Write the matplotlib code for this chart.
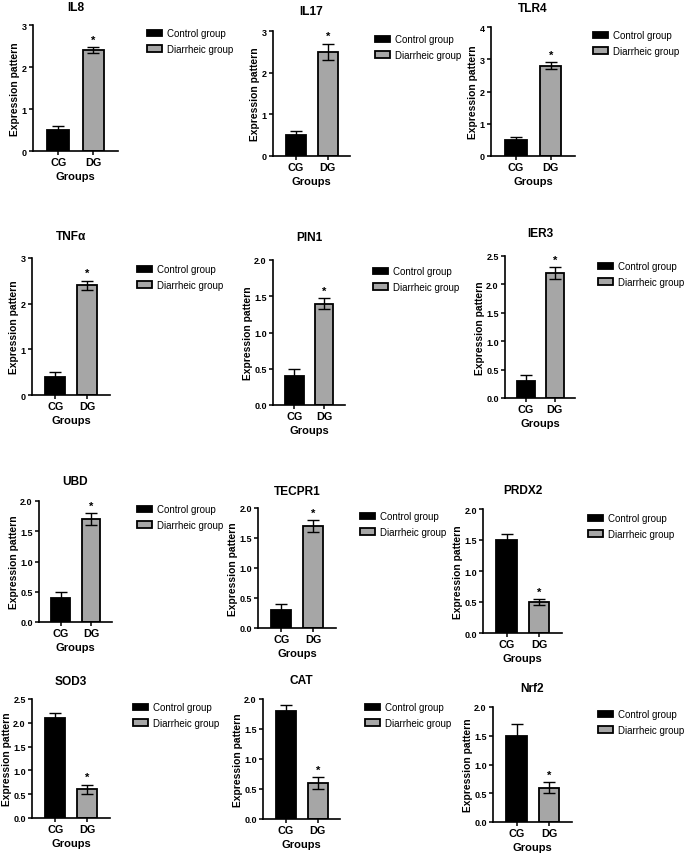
import matplotlib
matplotlib.use("Agg")
import matplotlib.pyplot as plt
import numpy as np

plt.rcParams['font.family'] = ['Liberation Sans', 'DejaVu Sans']

genes = ["IL8", "IL17", "TLR4", "TNFα", "PIN1", "IER3",
         "UBD", "TECPR1", "PRDX2", "SOD3", "CAT", "Nrf2"]
groups = ["CG", "DG"]
legend_labels = ["Control group", "Diarrheic group"]
cg_mean = [0.5, 0.5, 0.5, 0.4, 0.4, 0.3, 0.4, 0.3, 1.5, 2.1, 1.8, 1.5]
cg_err = [0.1, 0.1, 0.1, 0.1, 0.09, 0.1, 0.09, 0.1, 0.1, 0.1, 0.1, 0.2]
dg_mean = [2.4, 2.5, 2.8, 2.4, 1.4, 2.2, 1.7, 1.7, 0.5, 0.6, 0.6, 0.6]
dg_err = [0.07, 0.2, 0.1, 0.1, 0.07, 0.1, 0.1, 0.1, 0.05, 0.1, 0.1, 0.1]
y_top = [3, 3, 4, 3, 2.0, 2.5, 2.0, 2.0, 2.0, 2.5, 2.0, 2.0]
y_step = [1, 1, 1, 1, 0.5, 0.5, 0.5, 0.5, 0.5, 0.5, 0.5, 0.5]

W, H = 685, 854
# axes boxes in pixels: left, top, right, bottom
boxes = [(33, 26, 118, 152), (273, 32, 350, 157), (491, 28, 575, 157),
         (32, 259, 110, 396), (273, 261, 345, 406), (505, 257, 575, 399),
         (39, 502, 112, 623), (258, 509, 336, 629), (483, 510, 562, 634),
         (32, 700, 110, 819), (263, 700, 340, 820), (493, 708, 572, 823)]
title_y = [8, 12, 9, 237, 238, 234, 482, 492, 491, 682, 681, 689]
legend_pos = [(147, 42), (375, 48), (593, 44), (137, 278), (373, 280), (598, 275),
              (137, 518), (360, 525), (588, 527), (133, 716), (365, 716), (598, 723)]

fig = plt.figure(figsize=(W / 100, H / 100), dpi=100)

for i, g in enumerate(genes):
    l, t, r, b = boxes[i]
    ax = fig.add_axes([l / W, 1 - b / H, (r - l) / W, (b - t) / H])
    x = np.arange(2)
    ax.bar(x[0], cg_mean[i], width=0.62, color='black', edgecolor='black',
           linewidth=1.3, label=legend_labels[0], zorder=2)
    ax.bar(x[1], dg_mean[i], width=0.62, color='#a6a6a6', edgecolor='black',
           linewidth=1.3, label=legend_labels[1], zorder=2)
    ax.errorbar(x, [cg_mean[i], dg_mean[i]], yerr=[cg_err[i], dg_err[i]],
                fmt='none', ecolor='black', elinewidth=1.0, capsize=4.5,
                capthick=1.0, zorder=3)
    ax.text(x[1], dg_mean[i] + dg_err[i] + y_top[i] * 0.02, '*',
            ha='center', va='bottom', fontsize=8, fontweight='bold')
    ax.set_xlim(-0.72, 1.7)
    ax.set_ylim(0, y_top[i])
    ticks = np.arange(0, y_top[i] + 1e-9, y_step[i])
    ax.set_yticks(ticks)
    if y_step[i] < 1:
        ax.set_yticklabels([f"{v:.1f}" for v in ticks])
    else:
        ax.set_yticklabels([f"{int(v)}" for v in ticks])
    ax.set_xticks(x)
    ax.set_xticklabels(groups)
    for s in ['top', 'right']:
        ax.spines[s].set_visible(False)
    for s in ['left', 'bottom']:
        ax.spines[s].set_linewidth(1.2)
    ax.tick_params(axis='both', direction='out', length=3, width=1.1, pad=1.5)
    ax.tick_params(axis='y', labelsize=6.5)
    ax.tick_params(axis='x', labelsize=7.8)
    for lab in ax.get_xticklabels() + ax.get_yticklabels():
        lab.set_fontweight('bold')
    ax.set_ylabel("Expression pattern", fontsize=7.4, fontweight='bold', labelpad=1)
    ax.set_xlabel("Groups", fontsize=8, fontweight='bold', labelpad=3)
    fig.text((l + r) / 2 / W, 1 - title_y[i] / H, g, ha='center', va='center',
             fontsize=8.6, fontweight='bold')
    lx, ly = legend_pos[i]
    ax.legend(loc='center left', bbox_to_anchor=(lx / W, 1 - ly / H),
              bbox_transform=fig.transFigure, frameon=False, fontsize=7.0,
              handlelength=1.55, handleheight=0.7, handletextpad=0.5,
              labelspacing=0.55, borderpad=0, borderaxespad=0)

fig.savefig("out.png", dpi=100)
